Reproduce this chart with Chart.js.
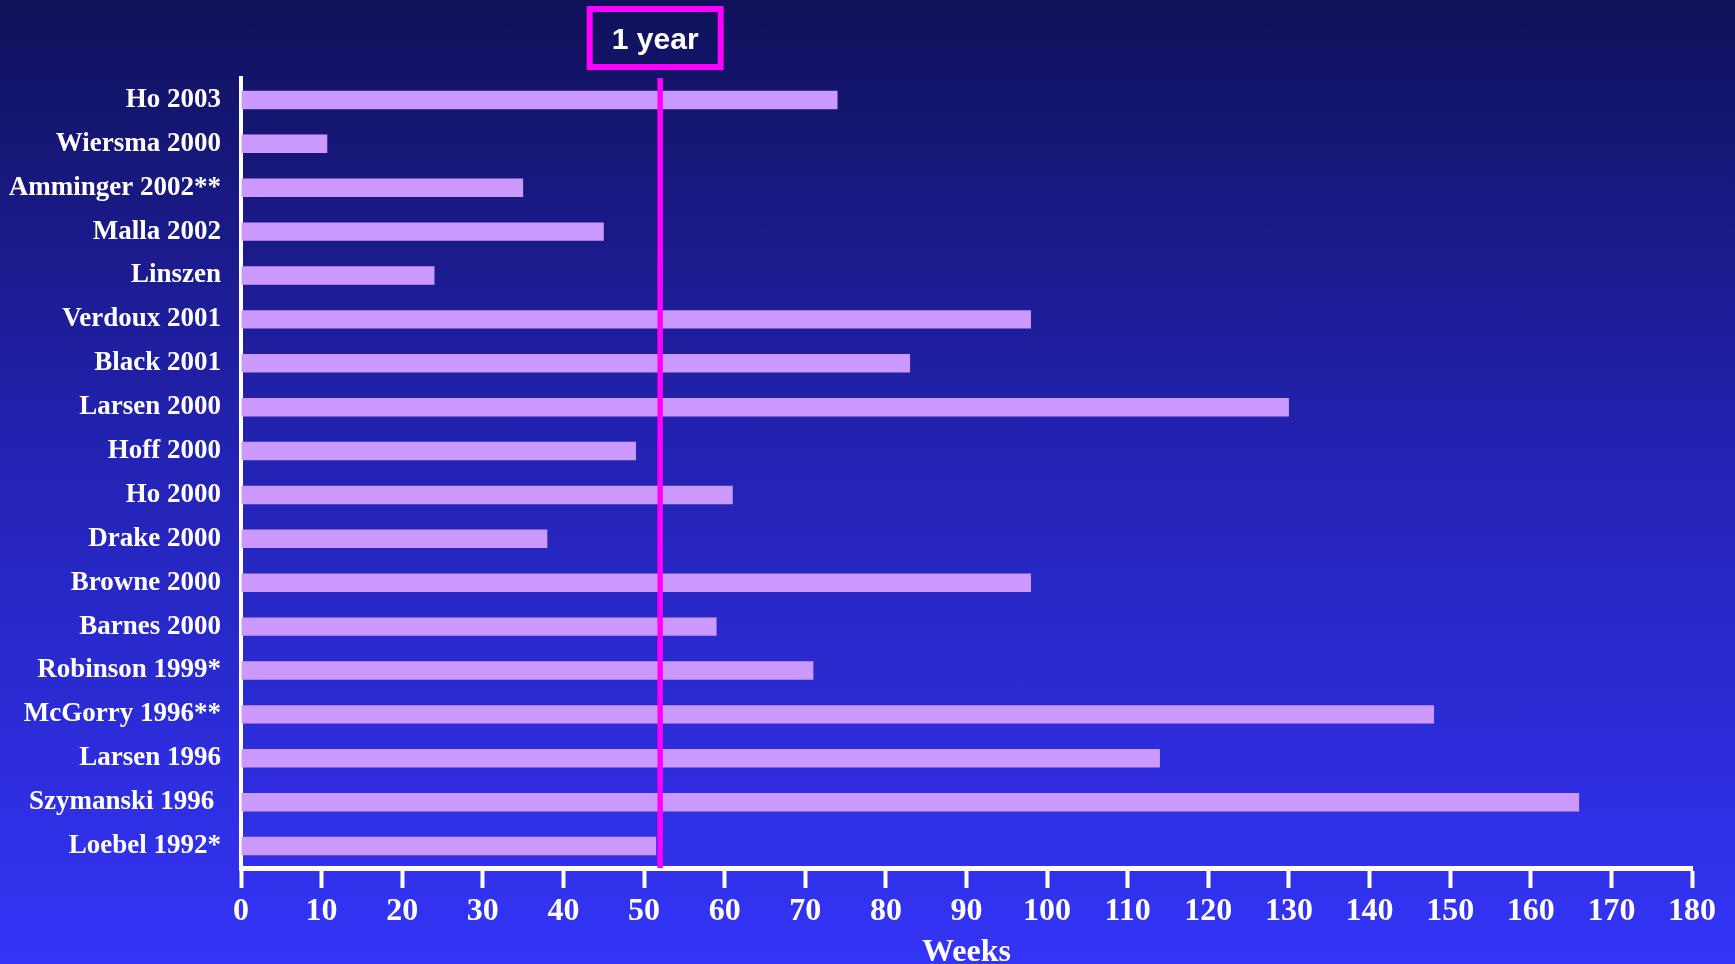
<!DOCTYPE html>
<html>
<head>
<meta charset="utf-8">
<script src="https://cdn.jsdelivr.net/npm/chart.js@4/dist/chart.umd.min.js"></script>
<style>
	html, body { margin: 0; padding: 0; }
	body {
		width: 1735px;
		height: 964px;
		overflow: hidden;
		background: linear-gradient(to bottom, #10115a 0%, #2222b0 45%, #3434f8 100%);
	}
	#wrap { position: relative; width: 1735px; height: 964px; }
</style>
</head>
<body>
<div id="wrap"><canvas id="dupChart"></canvas></div>
<script>
// Duration of untreated psychosis by study
var studies = ["Ho 2003", "Wiersma 2000", "Amminger 2002**", "Malla 2002", "Linszen",
	"Verdoux 2001", "Black 2001", "Larsen 2000", "Hoff 2000", "Ho 2000", "Drake 2000",
	"Browne 2000", "Barnes 2000", "Robinson 1999*", "McGorry 1996**", "Larsen 1996",
	"Szymanski 1996 ", "Loebel 1992*"];
var weeks = [74, 10.7, 35, 45, 24, 98, 83, 130, 49, 61, 38, 98, 59, 71, 148, 114, 166, 51.5];
var oneYear = 52;
var xMin = 0, xMax = 180, xStep = 10;

var white = '#ffffff';
var magenta = '#ff00ff';
var serif = '"Liberation Serif", "Times New Roman", serif';

// vertical marker at one year with a boxed label above it
var yearMarker = {
	id: 'yearMarker',
	afterDatasetsDraw: function (chart) {
		var ctx = chart.ctx;
		var area = chart.chartArea;
		var x = chart.scales.x.getPixelForValue(oneYear);
		ctx.save();
		ctx.strokeStyle = magenta;
		ctx.lineWidth = 5.5;
		ctx.beginPath();
		ctx.moveTo(x, area.top);
		ctx.lineTo(x, area.bottom);
		ctx.stroke();

		var bw = 131, bh = 58;
		var bx = x - bw / 2 - 5, by = 9;
		ctx.lineWidth = 6;
		ctx.strokeRect(bx, by, bw, bh);
		ctx.fillStyle = white;
		ctx.font = 'bold 30px "Liberation Sans", Arial, sans-serif';
		ctx.textAlign = 'center';
		ctx.textBaseline = 'middle';
		ctx.fillText('1 year', bx + bw / 2, by + bh / 2 + 3);
		ctx.restore();
	}
};

var ctx = document.getElementById('dupChart').getContext('2d');
new Chart(ctx, {
	type: 'bar',
	data: {
		labels: studies,
		datasets: [{
			label: 'DUP (weeks)',
			data: weeks,
			backgroundColor: '#cc99ff',
			borderWidth: 0,
			barPercentage: 0.42,
			categoryPercentage: 1
		}]
	},
	options: {
		indexAxis: 'y',
		responsive: true,
		maintainAspectRatio: false,
		animation: false,
		layout: {
			padding: { left: 0, top: 78, right: 43, bottom: 0 }
		},
		plugins: {
			legend: { display: false },
			tooltip: { enabled: false }
		},
		scales: {
			x: {
				min: xMin,
				max: xMax,
				afterFit: function (scale) { scale.height = 96; },
				ticks: {
					stepSize: xStep,
					color: white,
					padding: 5,
					maxRotation: 0,
					font: { family: serif, size: 32, weight: 'bold' }
				},
				grid: {
					drawOnChartArea: false,
					drawTicks: true,
					tickLength: 20,
					tickWidth: 4,
					tickColor: white
				},
				border: { display: true, color: white, width: 5 },
				title: {
					display: true,
					text: 'Weeks',
					color: white,
					padding: { top: 6, bottom: -8 },
					font: { family: serif, size: 32, weight: 'bold' }
				}
			},
			y: {
				afterFit: function (scale) { scale.width = 241; },
				ticks: {
					color: white,
					padding: 20,
					font: { family: serif, size: 27, weight: 'bold' }
				},
				grid: { display: false, drawTicks: false },
				border: { display: true, color: white, width: 4 }
			}
		}
	},
	plugins: [yearMarker]
});
</script>
</body>
</html>
